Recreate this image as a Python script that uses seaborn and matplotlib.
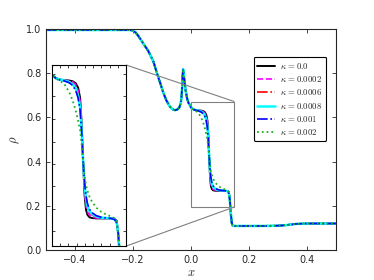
import matplotlib
matplotlib.use("Agg")
import matplotlib.pyplot as plt
import seaborn as sns
from matplotlib.ticker import MultipleLocator
from mpl_toolkits.axes_grid1.inset_locator import mark_inset

# shared left part (rarefaction + spike), same for every kappa
x_left = [-0.5, -0.3, -0.21, -0.2, -0.19, -0.18, -0.17, -0.16, -0.148, -0.13, -0.117,
          -0.105, -0.096, -0.085, -0.072, -0.063, -0.055, -0.047, -0.04, -0.035, -0.032,
          -0.03, -0.0285, -0.027, -0.025, -0.022, -0.018, -0.013, -0.008, -0.003]
rho_left = [0.996, 0.996, 0.996, 0.993, 0.984, 0.966, 0.946, 0.926, 0.903, 0.855, 0.80,
            0.752, 0.715, 0.678, 0.648, 0.637, 0.633, 0.636, 0.645, 0.665, 0.70,
            0.745, 0.79, 0.818, 0.80, 0.76, 0.72, 0.685, 0.665, 0.655]

# region shown in the inset, differs per kappa
x_mid = [0.0, 0.008, 0.015, 0.025, 0.035, 0.042, 0.048, 0.053, 0.057, 0.06, 0.063, 0.066,
         0.069, 0.072, 0.076, 0.081, 0.09, 0.1, 0.11, 0.12, 0.127, 0.131, 0.134, 0.137, 0.14]
rho_k0 = [0.646, 0.637, 0.634, 0.632, 0.631, 0.629, 0.624, 0.612, 0.585, 0.52, 0.42, 0.33,
          0.29, 0.277, 0.271, 0.269, 0.268, 0.268, 0.268, 0.268, 0.267, 0.262, 0.23, 0.17, 0.125]
rho_k0002 = [0.646, 0.637, 0.634, 0.632, 0.63, 0.627, 0.62, 0.604, 0.575, 0.515, 0.42, 0.34,
             0.30, 0.285, 0.276, 0.272, 0.269, 0.268, 0.268, 0.268, 0.267, 0.261, 0.23, 0.172, 0.127]
rho_k0006 = [0.646, 0.637, 0.634, 0.631, 0.628, 0.623, 0.613, 0.595, 0.565, 0.51, 0.42, 0.352,
             0.313, 0.295, 0.283, 0.277, 0.272, 0.27, 0.269, 0.268, 0.266, 0.258, 0.23, 0.175, 0.13]
rho_k0008 = [0.646, 0.637, 0.634, 0.631, 0.627, 0.621, 0.61, 0.59, 0.56, 0.505, 0.42, 0.357,
             0.32, 0.30, 0.287, 0.28, 0.273, 0.27, 0.269, 0.268, 0.266, 0.257, 0.23, 0.177, 0.132]
rho_k001 = [0.646, 0.637, 0.633, 0.63, 0.625, 0.618, 0.605, 0.585, 0.553, 0.50, 0.42, 0.362,
            0.327, 0.306, 0.292, 0.283, 0.275, 0.271, 0.269, 0.268, 0.265, 0.256, 0.23, 0.18, 0.135]
rho_k002 = [0.646, 0.636, 0.631, 0.622, 0.60, 0.578, 0.552, 0.525, 0.50, 0.465, 0.42, 0.38,
            0.355, 0.34, 0.325, 0.312, 0.296, 0.285, 0.278, 0.273, 0.268, 0.255, 0.23, 0.19, 0.145]

# shared right part
x_right = [0.143, 0.15, 0.25, 0.3, 0.33, 0.36, 0.4, 0.5]
rho_right = [0.112, 0.109, 0.109, 0.11, 0.113, 0.118, 0.12, 0.12]

labels = [r"$\kappa\,{=}0.0$", r"$\kappa\,{=}0.0002$", r"$\kappa\,{=}0.0006$",
          r"$\kappa\,{=}0.0008$", r"$\kappa\,{=}0.001$", r"$\kappa\,{=}0.002$"]
mids = [rho_k0, rho_k0002, rho_k0006, rho_k0008, rho_k001, rho_k002]
styles = [("#000000", "-", 1.4), ("#ff00ff", "--", 1.2), ("#ff0000", "-.", 1.2),
          ("#00ffff", "-", 1.8), ("#0000ff", "-.", 1.2), ("#20b020", ":", 1.3)]

sns.set_theme(style="ticks", color_codes=False, rc={
    "xtick.direction": "in", "ytick.direction": "in",
    "xtick.top": True, "ytick.right": True,
    "xtick.major.size": 3, "ytick.major.size": 3,
    "axes.edgecolor": "0.15", "axes.linewidth": 0.8,
})
plt.rcParams["font.family"] = ["DejaVu Sans"]
plt.rcParams["mathtext.fontset"] = "cm"
plt.rcParams["font.size"] = 7

fig = plt.figure(figsize=(3.74, 2.8), dpi=100)
ax = fig.add_axes([0.123, 0.107, 0.775, 0.789])
axins = fig.add_axes([0.139, 0.121, 0.198, 0.647])

x_all = x_left + x_mid + x_right
for lab, mid, (c, ls, lw) in zip(labels, mids, styles):
    y_all = rho_left + mid + rho_right
    sns.lineplot(x=x_all, y=y_all, ax=ax, color=c, linestyle=ls, linewidth=lw,
                 label=lab, sort=False, estimator=None)
    sns.lineplot(x=x_all, y=y_all, ax=axins, color=c, linestyle=ls, linewidth=lw,
                 legend=False, sort=False, estimator=None)

ax.set_xlim(-0.5, 0.5)
ax.set_ylim(0, 1.0)
ax.set_xticks([-0.4, -0.2, 0.0, 0.2, 0.4])
ax.set_yticks([0.0, 0.2, 0.4, 0.6, 0.8, 1.0])
ax.tick_params(labelsize=7, width=0.6, length=3)
ax.set_xlabel(r"$x$", fontsize=9, labelpad=1)
ax.set_ylabel(r"$\rho$", fontsize=9, labelpad=3)

leg = ax.legend(loc="upper right", bbox_to_anchor=(0.982, 0.895), fontsize=6.3,
                handlelength=2.0, handletextpad=0.6, labelspacing=0.38, borderpad=0.45,
                frameon=True, fancybox=True, framealpha=1, edgecolor="k")
leg.get_frame().set_linewidth(0.8)

axins.set_xlim(0.0, 0.15)
axins.set_ylim(0.195, 0.672)
axins.xaxis.set_major_locator(MultipleLocator(0.15 / 9))
axins.set_yticks([0.234, 0.293, 0.352, 0.411, 0.47, 0.53, 0.59, 0.648])
axins.tick_params(labelbottom=False, labelleft=False, width=0.6, length=2.5)
axins.set_xlabel("")
axins.set_ylabel("")
for s in axins.spines.values():
    s.set_color("k")

mark_inset(ax, axins, loc1=1, loc2=4, fc="none", ec="0.5", lw=0.8)

fig.savefig("out.png", dpi=100)
